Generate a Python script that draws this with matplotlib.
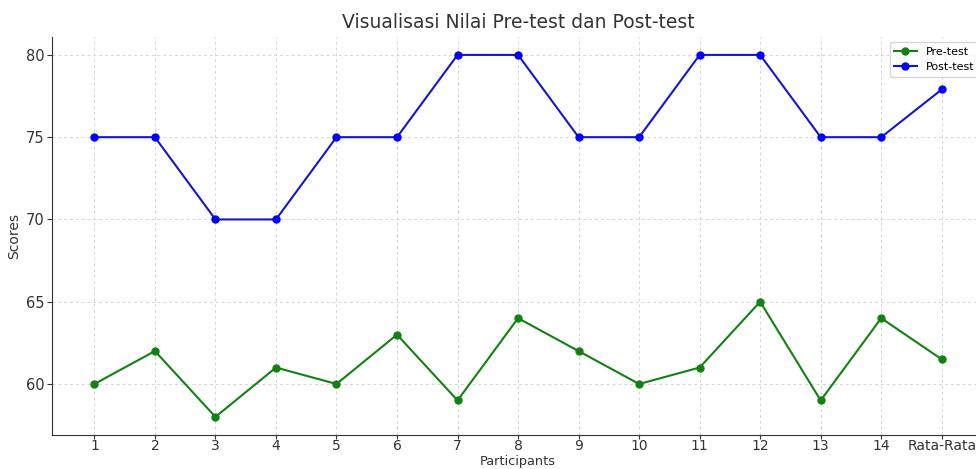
import matplotlib
matplotlib.use("Agg")
import matplotlib.pyplot as plt

participants = ["1", "2", "3", "4", "5", "6", "7", "8", "9", "10", "11", "12", "13", "14", "Rata-Rata"]
pre_test = [60, 62, 58, 61, 60, 63, 59, 64, 62, 60, 61, 65, 59, 64, 61.5]
post_test = [75, 75, 70, 70, 75, 75, 80, 80, 75, 75, 80, 80, 75, 75, 77.9]

plt.rcParams['font.family'] = ['DejaVu Sans']
fig = plt.figure(figsize=(9.76, 4.69), dpi=100)
ax = fig.add_axes([0.0533, 0.0725, 0.955, 0.849])

x = list(range(1, len(participants) + 1))
ax.plot(x, pre_test, marker='o', color='#138013', label='Pre-test', markersize=5, linewidth=1.5)
ax.plot(x, post_test, marker='o', color='#1515d0', markerfacecolor='blue', markeredgecolor='blue',
        label='Post-test', markersize=5, linewidth=1.5)

ax.set_xticks(x)
ax.set_xticklabels(participants)
ax.set_yticks([60, 65, 70, 75, 80])
ax.set_title('Visualisasi Nilai Pre-test dan Post-test', fontsize=13.5, color='#333333')
ax.set_xlabel('Participants', fontsize=9.3, color='#333333')
ax.xaxis.set_label_coords(0.5, -0.0505)
ax.set_ylabel('Scores', fontsize=10, color='#333333', labelpad=3)
ax.tick_params(labelsize=10.5, colors='#333333', length=3.5)
ax.tick_params(axis='x', labelsize=10, length=3, pad=0)
ax.tick_params(axis='y', pad=2)
ax.grid(True, linestyle=(0, (3, 3)), color='#d5d5d5', linewidth=0.7)
ax.spines['top'].set_visible(False)
ax.spines['right'].set_visible(False)
ax.spines['left'].set_color('#333333')
ax.spines['bottom'].set_color('#333333')
ax.legend(loc='upper right', fontsize=8)

fig.savefig('out.png', dpi=100)
